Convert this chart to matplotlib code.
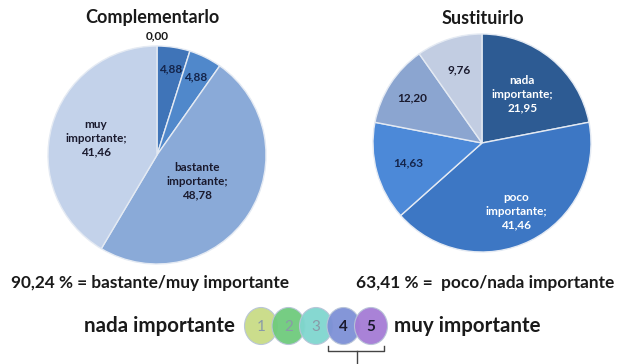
import numpy as np
import matplotlib.pyplot as plt
from matplotlib.patches import Ellipse

# data
left_title = "Complementarlo"
right_title = "Sustituirlo"

left_values = [0.00, 4.88, 4.88, 48.78, 41.46]
left_labels = ["0,00", "4,88", "4,88", "bastante\nimportante;\n48,78", "muy\nimportante;\n41,46"]
left_colors = ["#2f5f9a", "#3f74b8", "#5088cb", "#8aaad8", "#c3d2ea"]

right_values = [21.95, 41.46, 14.63, 12.20, 9.76]
right_labels = ["nada\nimportante;\n21,95", "poco\nimportante;\n41,46", "14,63", "12,20", "9,76"]
right_colors = ["#2d5b93", "#3d77c4", "#4c89d8", "#8ba5d0", "#c2cde2"]

left_summary = "90,24 % = bastante/muy importante"
right_summary = "63,41 % =  poco/nada importante"

scale_values = [1, 2, 3, 4, 5]
scale_colors = ["#c9dc86", "#6fcb7c", "#80d6cf", "#7d90d6", "#a57bd5"]

plt.rcParams["font.family"] = ["Lato", "DejaVu Sans"]

W, H = 617, 364
fig = plt.figure(figsize=(W / 100, H / 100), dpi=100)
fig.patch.set_facecolor("white")


def draw_pie(rect, values, labels, colors, radii, text_colors):
    ax = fig.add_axes(rect)
    wedges, _ = ax.pie(values, colors=colors, startangle=90, counterclock=False,
                       radius=1.0, wedgeprops=dict(edgecolor="#e4eaf3", linewidth=1.0))
    ax.set_xlim(-1.0, 1.0)
    ax.set_ylim(-1.0, 1.0)
    ax.set_aspect("equal")
    ax.axis("off")
    for w, lab, r, tc in zip(wedges, labels, radii, text_colors):
        ang = np.deg2rad((w.theta1 + w.theta2) / 2)
        ax.text(r * np.cos(ang), r * np.sin(ang), lab, ha="center", va="center",
                fontsize=8.5, fontweight="bold", color=tc, linespacing=1.3)
    return ax


ax_l = draw_pie([48 / W, 1 - 264 / H, 218 / W, 218 / H], left_values, left_labels, left_colors,
                [1.09, 0.80, 0.80, 0.44, 0.58],
                ["#1a1a1a", "#14244a", "#14244a", "#1a1a2e", "#1a1a2e"])
ax_r = draw_pie([373 / W, 1 - 252 / H, 218 / W, 218 / H], right_values, right_labels, right_colors,
                [0.58, 0.70, 0.70, 0.76, 0.70],
                ["white", "white", "#14244a", "#1a1a2e", "#1a1a2e"])

# overlay in pixel coordinates
ov = fig.add_axes([0, 0, 1, 1], zorder=5)
ov.set_xlim(0, W)
ov.set_ylim(H, 0)
ov.axis("off")

ov.text(152, 18, left_title, ha="center", va="center", fontsize=13, fontweight="bold", color="#1a1a1a")
ov.text(483, 18, right_title, ha="center", va="center", fontsize=13, fontweight="bold", color="#1a1a1a")

ov.text(150, 283, left_summary, ha="center", va="center", fontsize=12.4, fontweight="bold", color="#1a1a1a")
ov.text(485, 283, right_summary, ha="center", va="center", fontsize=12.4, fontweight="bold", color="#1a1a1a")

ov.text(235, 326, "nada importante", ha="right", va="center", fontsize=14.8, fontweight="bold", color="#1a1a1a")
ov.text(394, 326, "muy importante", ha="left", va="center", fontsize=14.8, fontweight="bold", color="#1a1a1a")

x0, step = 261, 27.5
for i, (v, c) in enumerate(zip(scale_values, scale_colors)):
    cx = x0 + i * step
    ov.add_patch(Ellipse((cx, 326), 33, 37, facecolor=c, edgecolor="#b8c4d8", linewidth=0.8, alpha=0.95))
    if v >= 4:
        ov.text(cx, 327, str(v), ha="center", va="center", fontsize=11, fontweight="bold", color="#1a1a2e")
    else:
        ov.text(cx, 327, str(v), ha="center", va="center", fontsize=11, color="#8a9aa8")

# bracket under 4 and 5
ov.plot([328, 328, 384, 384], [346, 351, 351, 346], color="#444444", linewidth=1)
ov.plot([357, 357], [351, 364], color="#444444", linewidth=1)

fig.savefig("out.png", dpi=100)
